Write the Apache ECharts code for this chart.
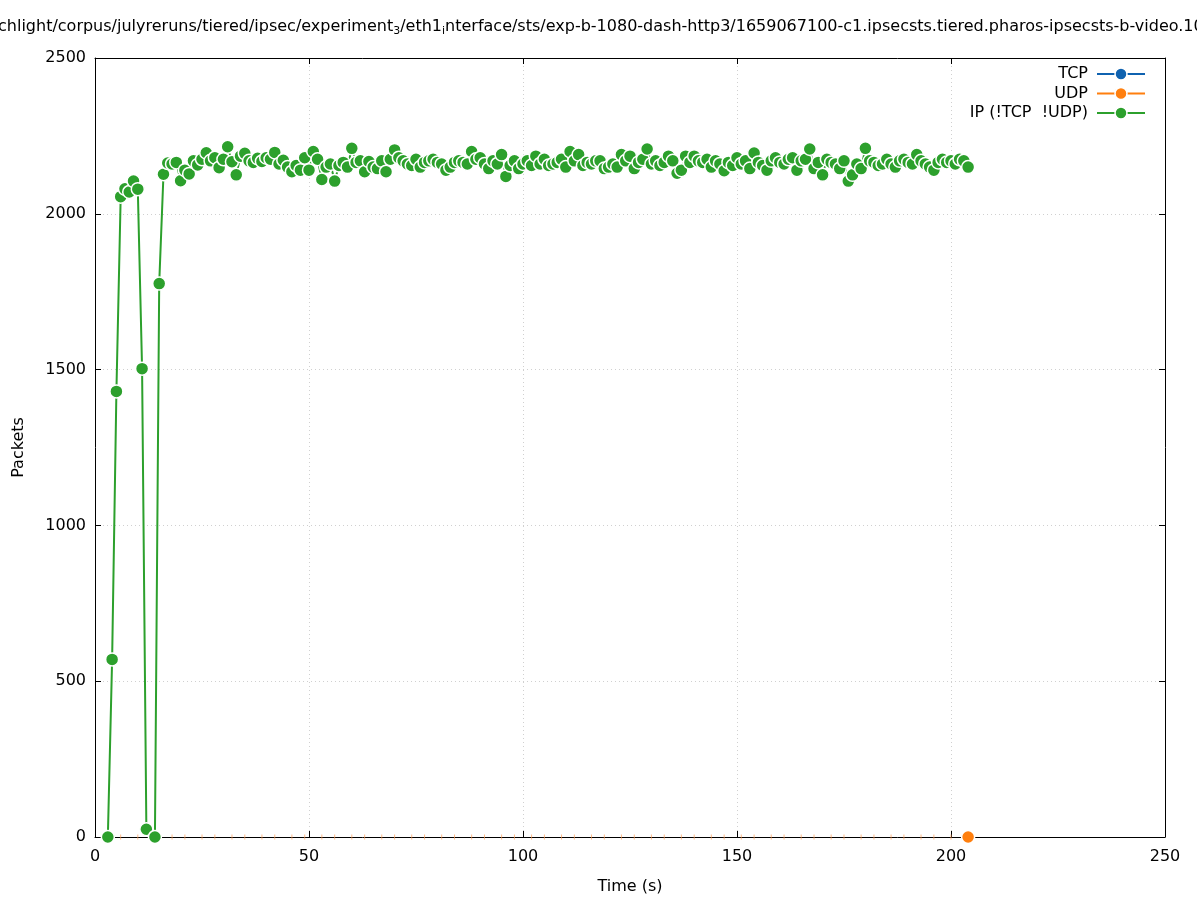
<!DOCTYPE html>
<html>
<head>
<meta charset="utf-8">
<script src="https://cdn.jsdelivr.net/npm/echarts@6/dist/echarts.min.js"></script>
<style>html,body{margin:0;padding:0;background:#fff;}#c{width:1197px;height:900px;}</style>
</head>
<body>
<div id="c"></div>
<script>
const times = [3,4,5,6,7,8,9,10,11,12,
14,15,16,17,18,19,20,
21,22,23,24,25,26,27,28,29,30,
31,32,33,34,35,36,37,38,39,40,
41,42,43,44,45,46,47,48,49,50,
51,52,53,54,55,56,57,58,59,60,
61,62,63,64,65,66,67,68,69,70,
71,72,73,74,75,76,77,78,79,80,
81,82,83,84,85,86,87,88,89,90,
91,92,93,94,95,96,97,98,99,100,
101,102,103,104,105,106,107,108,109,110,
111,112,113,114,115,116,117,118,119,120,
121,122,123,124,125,126,127,128,129,130,
131,132,133,134,135,136,137,138,139,140,
141,142,143,144,145,146,147,148,149,150,
151,152,153,154,155,156,157,158,159,160,
161,162,163,164,165,166,167,168,169,170,
171,172,173,174,175,176,177,178,179,180,
181,182,183,184,185,186,187,188,189,190,
191,192,193,194,195,196,197,198,199,200,
201,202,203,204];

const ipValues = [0,570,1430,2055,2080,2070,2105,2079,1503,25,
0,1776,2127,2163,2160,2165,2106,
2140,2128,2170,2157,2175,2196,2170,2180,2148,2175,
2215,2167,2125,2185,2194,2170,2165,2178,2168,2180,
2175,2197,2160,2172,2150,2135,2155,2140,2180,2140,
2200,2175,2110,2150,2160,2105,2155,2165,2150,2210,
2165,2170,2135,2168,2150,2145,2170,2135,2175,2205,
2180,2170,2160,2155,2175,2150,2165,2170,2175,2165,
2160,2140,2150,2165,2170,2165,2160,2200,2175,2180,
2160,2145,2170,2160,2190,2120,2155,2170,2145,2160,
2170,2155,2185,2160,2175,2155,2160,2165,2175,2150,
2200,2170,2190,2155,2165,2160,2170,2170,2145,2150,
2160,2150,2190,2170,2185,2145,2165,2175,2208,2160,
2170,2155,2165,2185,2170,2130,2140,2185,2165,2185,
2170,2165,2175,2150,2170,2160,2138,2165,2155,2180,
2160,2170,2145,2195,2165,2155,2140,2170,2180,2165,
2160,2175,2180,2140,2170,2175,2208,2145,2165,2125,
2175,2165,2160,2145,2170,2105,2125,2160,2145,2210,
2170,2165,2155,2160,2175,2160,2150,2170,2175,2165,
2160,2190,2170,2160,2150,2140,2165,2175,2165,2170,
2160,2175,2170,2150];

const udpValues = [0,0,0,0,0,0,0,0,0,0,0,0,0,0,0,0,0,0,0,0,
0,0,0,0,0,0,0,0,0,0,0,0,0,0,0,0,0,0,0,0,
0,0,0,0,0,0,0,0,0,0,0,0,0,0,0,0,0,0,0,0,
0,0,0,0,0,0,0,0,0,0,0,0,0,0,0,0,0,0,0,0,
0,0,0,0,0,0,0,0,0,0,0,0,0,0,0,0,0,0,0,0,
0,0,0,0,0,0,0,0,0,0,0,0,0,0,0,0,0,0,0,0,
0,0,0,0,0,0,0,0,0,0,0,0,0,0,0,0,0,0,0,0,
0,0,0,0,0,0,0,0,0,0,0,0,0,0,0,0,0,0,0,0,
0,0,0,0,0,0,0,0,0,0,0,0,0,0,0,0,0,0,0,0,
0,0,0,0,0,0,0,0,0,0,0,0,0,0,0,0,0,0,0,0,
0];

const tcpValues = [];

const xTicks = [0, 50, 100, 150, 200, 250];
const yTicks = [0, 500, 1000, 1500, 2000, 2500];
const seriesNames = ['TCP', 'UDP', 'IP (!TCP  !UDP)'];

const FONT = 'DejaVu Sans';
const BLUE = '#0f62b0', ORANGE = '#ff7f0e', GREEN = '#2ca02c';
const seriesColors = [BLUE, ORANGE, GREEN];

const ipData = times.map((t, i) => [t, ipValues[i]]);
const udpData = times.map((t, i) => {
  const last = i === times.length - 1;
  const tick = (i % 7 === 0 || i % 7 === 3);
  return {
    value: [t, udpValues[i]],
    symbol: last ? 'circle' : (tick ? 'rect' : 'none'),
    symbolSize: last ? 13 : [1, 5],
    itemStyle: last ? { color: ORANGE, borderColor: '#fff', borderWidth: 1.5 }
                    : { color: 'rgba(255,160,90,0.7)', borderWidth: 0 }
  };
});
const tcpData = tcpValues.map((v, i) => [times[i], v]);

const chart = echarts.init(document.getElementById('c'), null, { renderer: 'canvas' });

const gridL = 95, gridR = 32, gridT = 58, gridB = 62;

function axisTickStyle() {
  return { show: true, inside: false, length: -6, lineStyle: { color: '#000', width: 1 } };
}
function axisLineStyle() {
  return { show: true, onZero: false, lineStyle: { color: '#000', width: 1 } };
}

const option = {
  backgroundColor: '#fff',
  animation: false,
  textStyle: { fontFamily: FONT },
  grid: { left: gridL, right: gridR, top: gridT, bottom: gridB, containLabel: false },
  graphic: [{
    type: 'text',
    left: -2,
    top: 19,
    z: 100,
    style: {
      text: 'chlight/corpus/julyreruns/tiered/ipsec/experiment{sub|3}/eth1{sub|i}nterface/sts/exp-b-1080-dash-http3/1659067100-c1.ipsecsts.tiered.pharos-ipsecsts-b-video.1080p.json',
      font: '16px "' + FONT + '"',
      fill: '#000',
      rich: {
        sub: { fontSize: 11, fontFamily: FONT, padding: [9, 0, 0, 0], fill: '#000' }
      }
    }
  }],
  legend: seriesNames.map((n, i) => ({
    data: [n],
    right: 51,
    top: 66 + i * 19.5,
    orient: 'horizontal',
    align: 'right',
    itemWidth: 48,
    itemHeight: 15,
    itemGap: 0,
    padding: 0,
    selectedMode: false,
    lineStyle: { color: seriesColors[i], width: 2, opacity: 1 },
    itemStyle: { color: seriesColors[i], borderColor: '#fff', borderWidth: 1.5 },
    textStyle: { fontFamily: FONT, fontSize: 16, color: '#000', padding: [0, 4, 0, 0] }
  })),
  xAxis: [{
    type: 'value', min: 0, max: 250, interval: 50,
    position: 'bottom',
    name: 'Time (s)', nameLocation: 'middle', nameGap: 42,
    nameTextStyle: { fontFamily: FONT, fontSize: 16, color: '#000' },
    axisLine: axisLineStyle(),
    axisTick: axisTickStyle(),
    axisLabel: { fontFamily: FONT, fontSize: 16, color: '#000', margin: 12,
      formatter: v => xTicks.includes(v) ? String(v) : '' },
    splitLine: { show: true, lineStyle: { color: '#d0d0d0', type: [1, 3], width: 1 } }
  }, {
    type: 'value', min: 0, max: 250, interval: 50,
    position: 'top',
    axisLine: axisLineStyle(),
    axisTick: axisTickStyle(),
    axisLabel: { show: false },
    splitLine: { show: false }
  }],
  yAxis: [{
    type: 'value', min: 0, max: 2500, interval: 500,
    position: 'left',
    name: 'Packets', nameLocation: 'middle', nameGap: 68, nameRotate: 90,
    nameTextStyle: { fontFamily: FONT, fontSize: 16, color: '#000' },
    axisLine: axisLineStyle(),
    axisTick: axisTickStyle(),
    axisLabel: { fontFamily: FONT, fontSize: 16, color: '#000', margin: 9,
      formatter: v => yTicks.includes(v) ? String(v) : '' },
    splitLine: { show: true, lineStyle: { color: '#d0d0d0', type: [1, 3], width: 1 } }
  }, {
    type: 'value', min: 0, max: 2500, interval: 500,
    position: 'right',
    axisLine: axisLineStyle(),
    axisTick: axisTickStyle(),
    axisLabel: { show: false },
    splitLine: { show: false }
  }],
  series: [{
    name: seriesNames[0], type: 'line', data: tcpData,
    xAxisIndex: 0, yAxisIndex: 0,
    symbol: 'circle', symbolSize: 13,
    lineStyle: { color: BLUE, width: 2 },
    itemStyle: { color: BLUE, borderColor: '#fff', borderWidth: 1.5 }
  }, {
    name: seriesNames[1], type: 'line', data: udpData,
    xAxisIndex: 0, yAxisIndex: 0,
    symbol: 'circle', symbolSize: 13,
    showAllSymbol: true,
    lineStyle: { color: ORANGE, width: 0, opacity: 0 },
    itemStyle: { color: ORANGE, borderColor: '#fff', borderWidth: 1.5 },
    z: 3
  }, {
    name: seriesNames[2], type: 'line', data: ipData,
    xAxisIndex: 0, yAxisIndex: 0,
    symbol: 'circle', symbolSize: 13,
    showAllSymbol: true,
    lineStyle: { color: GREEN, width: 2 },
    itemStyle: { color: GREEN, borderColor: '#fff', borderWidth: 1.5 },
    z: 4
  }]
};
chart.setOption(option);
</script>
</body>
</html>
